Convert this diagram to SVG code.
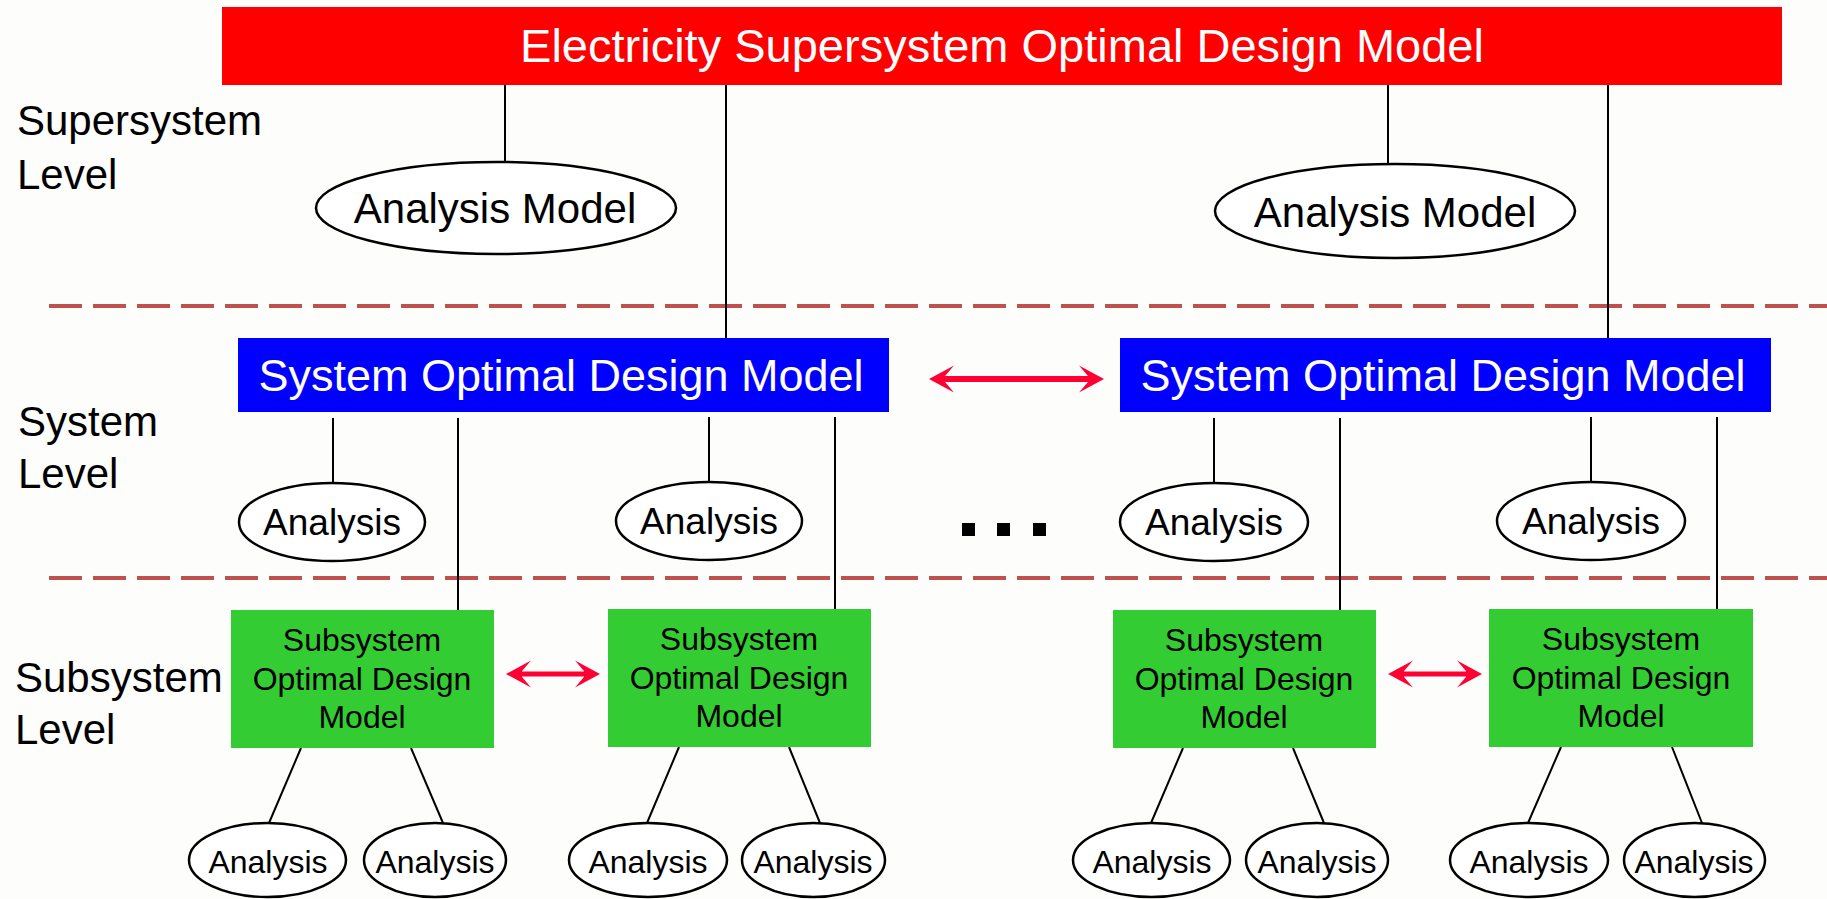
<svg xmlns="http://www.w3.org/2000/svg" width="1827" height="899" viewBox="0 0 1827 899">
<style>
text{font-family:"Liberation Sans",Arial,sans-serif;}
.lbl{font-size:42px;fill:#000;}
.ell{fill:#fff;stroke:#000;stroke-width:2.5;}
.con{stroke:#000;stroke-width:2;fill:none;}
.dash{stroke:#C0504D;stroke-width:4;stroke-dasharray:33 11;fill:none;}
.arr{stroke:#FF0033;stroke-width:6;fill:none;marker-start:url(#ah);marker-end:url(#ah);}
.ta{font-size:37px;text-anchor:middle;fill:#000;}
.tb{font-size:32px;text-anchor:middle;fill:#000;}
.tm{font-size:42px;text-anchor:middle;fill:#000;}
.tw{fill:#fff;text-anchor:middle;}
.green{fill:#33CC33;}
</style>
<defs>
<marker id="ah" markerUnits="userSpaceOnUse" viewBox="-10 -15 28 30" markerWidth="28" markerHeight="30" refX="0" refY="0" orient="auto-start-reverse">
<path d="M16,0 L-9,-13.5 L0,-3 L0,3 L-9,13.5 Z" fill="#FF0033"/>
</marker>
</defs>
<rect width="1827" height="899" fill="#FDFDFC"/>

<g id="level-labels">
<text class="lbl" x="17" y="135">Supersystem</text>
<text class="lbl" x="17" y="189">Level</text>
<text class="lbl" x="18" y="436">System</text>
<text class="lbl" x="18" y="488">Level</text>
<text class="lbl" x="15" y="692">Subsystem</text>
<text class="lbl" x="15" y="744">Level</text>
</g>

<g id="separators">
<line class="dash" x1="49" y1="306" x2="1827" y2="306"/>
<line class="dash" x1="49" y1="578" x2="1827" y2="578"/>
</g>

<g id="connectors">
<line class="con" x1="505" y1="85" x2="505" y2="162"/>
<line class="con" x1="726" y1="78" x2="726" y2="338"/>
<line class="con" x1="1388" y1="85" x2="1388" y2="164"/>
<line class="con" x1="1608" y1="76" x2="1608" y2="338"/>
<line class="con" x1="333" y1="418" x2="333" y2="483"/>
<line class="con" x1="458" y1="418" x2="458" y2="610"/>
<line class="con" x1="709" y1="417" x2="709" y2="482"/>
<line class="con" x1="835" y1="417" x2="835" y2="609"/>
<line class="con" x1="1214" y1="418" x2="1214" y2="483"/>
<line class="con" x1="1340" y1="418" x2="1340" y2="610"/>
<line class="con" x1="1591" y1="417" x2="1591" y2="482"/>
<line class="con" x1="1717" y1="417" x2="1717" y2="609"/>
<line class="con" x1="301" y1="748" x2="269" y2="823"/>
<line class="con" x1="411" y1="748" x2="443" y2="823"/>
<line class="con" x1="679" y1="747" x2="647" y2="823"/>
<line class="con" x1="789" y1="747" x2="820" y2="823"/>
<line class="con" x1="1183" y1="748" x2="1151" y2="823"/>
<line class="con" x1="1293" y1="748" x2="1324" y2="823"/>
<line class="con" x1="1561" y1="747" x2="1528" y2="823"/>
<line class="con" x1="1672" y1="747" x2="1702" y2="823"/>
<line class="arr" x1="945" y1="379" x2="1088" y2="379"/>
<line class="arr" x1="522" y1="674" x2="584" y2="674" style="stroke-width:5"/>
<line class="arr" x1="1404" y1="674" x2="1466" y2="674" style="stroke-width:5"/>
</g>

<g id="supersystem">
<rect x="222" y="7" width="1560" height="78" fill="#FF0000"/>
<text class="tw" x="1002" y="62" style="font-size:47px">Electricity Supersystem Optimal Design Model</text>
</g>

<g id="analysis-model-1">
<ellipse class="ell" cx="496" cy="208" rx="180" ry="46"/>
<text class="tm" x="495" y="223">Analysis Model</text>
</g>
<g id="analysis-model-2">
<ellipse class="ell" cx="1395" cy="211" rx="180" ry="47"/>
<text class="tm" x="1395" y="227">Analysis Model</text>
</g>

<g id="system-1">
<rect x="238" y="338" width="651" height="74" fill="#0000FF"/>
<text class="tw" x="561" y="391" style="font-size:45px">System Optimal Design Model</text>
</g>
<g id="system-2">
<rect x="1120" y="338" width="651" height="74" fill="#0000FF"/>
<text class="tw" x="1443" y="391" style="font-size:45px">System Optimal Design Model</text>
</g>

<g id="sys-analysis-1"><ellipse class="ell" cx="332" cy="522" rx="93" ry="39"/><text class="ta" x="332" y="535">Analysis</text></g>
<g id="sys-analysis-2"><ellipse class="ell" cx="709" cy="521" rx="93" ry="39"/><text class="ta" x="709" y="534">Analysis</text></g>
<g id="sys-analysis-3"><ellipse class="ell" cx="1214" cy="522" rx="94" ry="39"/><text class="ta" x="1214" y="535">Analysis</text></g>
<g id="sys-analysis-4"><ellipse class="ell" cx="1591" cy="521" rx="94" ry="39"/><text class="ta" x="1591" y="534">Analysis</text></g>

<g id="ellipsis">
<rect x="962" y="523" width="13" height="13" fill="#000"/>
<rect x="997" y="523" width="13" height="13" fill="#000"/>
<rect x="1033" y="523" width="13" height="13" fill="#000"/>
</g>

<g id="subsystem-1">
<rect class="green" x="231" y="610" width="263" height="138"/>
<text class="tb" x="362" y="651">Subsystem</text>
<text class="tb" x="362" y="690">Optimal Design</text>
<text class="tb" x="362" y="728">Model</text>
</g>
<g id="subsystem-2">
<rect class="green" x="608" y="609" width="263" height="138"/>
<text class="tb" x="739" y="650">Subsystem</text>
<text class="tb" x="739" y="689">Optimal Design</text>
<text class="tb" x="739" y="727">Model</text>
</g>
<g id="subsystem-3">
<rect class="green" x="1113" y="610" width="263" height="138"/>
<text class="tb" x="1244" y="651">Subsystem</text>
<text class="tb" x="1244" y="690">Optimal Design</text>
<text class="tb" x="1244" y="728">Model</text>
</g>
<g id="subsystem-4">
<rect class="green" x="1489" y="609" width="264" height="138"/>
<text class="tb" x="1621" y="650">Subsystem</text>
<text class="tb" x="1621" y="689">Optimal Design</text>
<text class="tb" x="1621" y="727">Model</text>
</g>

<g id="sub-analysis-1"><ellipse class="ell" cx="267.5" cy="860" rx="78.5" ry="37"/><text class="tb" x="268" y="873">Analysis</text></g>
<g id="sub-analysis-2"><ellipse class="ell" cx="435" cy="860" rx="71" ry="37"/><text class="tb" x="435" y="873">Analysis</text></g>
<g id="sub-analysis-3"><ellipse class="ell" cx="648" cy="860" rx="79" ry="37"/><text class="tb" x="648" y="873">Analysis</text></g>
<g id="sub-analysis-4"><ellipse class="ell" cx="813.5" cy="860" rx="71.5" ry="37"/><text class="tb" x="813" y="873">Analysis</text></g>
<g id="sub-analysis-5"><ellipse class="ell" cx="1151.5" cy="860" rx="78.5" ry="37"/><text class="tb" x="1152" y="873">Analysis</text></g>
<g id="sub-analysis-6"><ellipse class="ell" cx="1317" cy="860" rx="71" ry="37"/><text class="tb" x="1317" y="873">Analysis</text></g>
<g id="sub-analysis-7"><ellipse class="ell" cx="1529" cy="860" rx="79" ry="37"/><text class="tb" x="1529" y="873">Analysis</text></g>
<g id="sub-analysis-8"><ellipse class="ell" cx="1694.5" cy="860" rx="70.5" ry="37"/><text class="tb" x="1694" y="873">Analysis</text></g>
</svg>
